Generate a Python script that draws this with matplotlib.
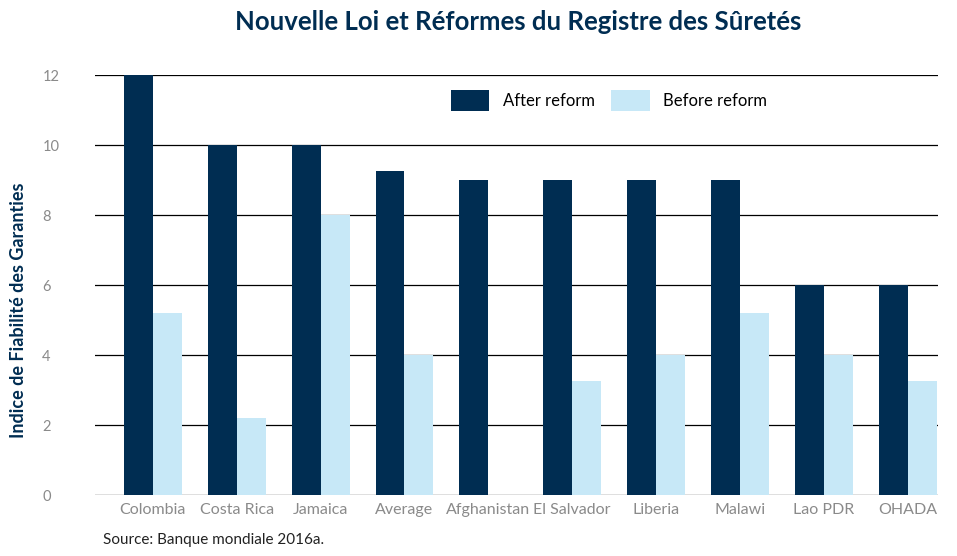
import numpy as np
import matplotlib
matplotlib.use('Agg')
import matplotlib.pyplot as plt

plt.rcParams['font.family'] = ['Lato', 'DejaVu Sans']

# data
categories = ['Colombia', 'Costa Rica', 'Jamaica', 'Average', 'Afghanistan',
              'El Salvador', 'Liberia', 'Malawi', 'Lao PDR', 'OHADA']
after_reform = [12, 10, 10, 9.25, 9, 9, 9, 9, 6, 6]
before_reform = [5.2, 2.2, 8, 4, 0, 3.25, 4, 5.2, 4, 3.25]
y_ticks = [0, 2, 4, 6, 8, 10, 12]

navy = '#002D52'
light = '#C7E8F7'
grey = '#8a8a8a'

fig = plt.figure(figsize=(9.57, 5.56), dpi=100)
ax = fig.add_axes([0.0993, 0.1097, 0.8807, 0.7554])

x = np.arange(len(categories))
w = 0.345
ax.bar(x - w / 2, after_reform, w, color=navy, label='After reform', zorder=3)
ax.bar(x + w / 2, before_reform, w, color=light, label='Before reform', zorder=3)

ax.set_xlim(-0.69, len(categories) - 1 + 0.36)
ax.set_ylim(0, 12)
ax.set_yticks(y_ticks)
ax.yaxis.grid(True, color='black', linewidth=0.9, zorder=0)
ax.set_axisbelow(True)
for s in ax.spines.values():
    s.set_visible(False)

ax.set_xticks(x)
ax.set_xticklabels(categories, fontsize=11.5, color=grey)
ax.tick_params(axis='x', length=0, pad=6)
ax.tick_params(axis='y', length=0, pad=38, labelsize=10.5, labelcolor=grey)
for lab in ax.get_yticklabels():
    lab.set_horizontalalignment('left')

ax.set_ylabel('Indice de Fiabilité des Garanties', fontsize=13, fontweight='bold',
              color=navy)
ax.yaxis.set_label_coords(-0.081, 0.44)

leg = ax.legend(loc='upper center', bbox_to_anchor=(0.61, 1.0), ncol=2, frameon=False,
                fontsize=12, handlelength=2.3, handleheight=1.6, columnspacing=1.0,
                handletextpad=0.8)

fig.text(0.541, 0.96, 'Nouvelle Loi et Réformes du Registre des Sûretés', ha='center',
         va='center', fontsize=18.5, fontweight='bold', color=navy)
fig.text(0.108, 0.016, 'Source: Banque mondiale 2016a.', ha='left', va='bottom',
         fontsize=11, color='#222222')

fig.savefig('out.png', dpi=100)
